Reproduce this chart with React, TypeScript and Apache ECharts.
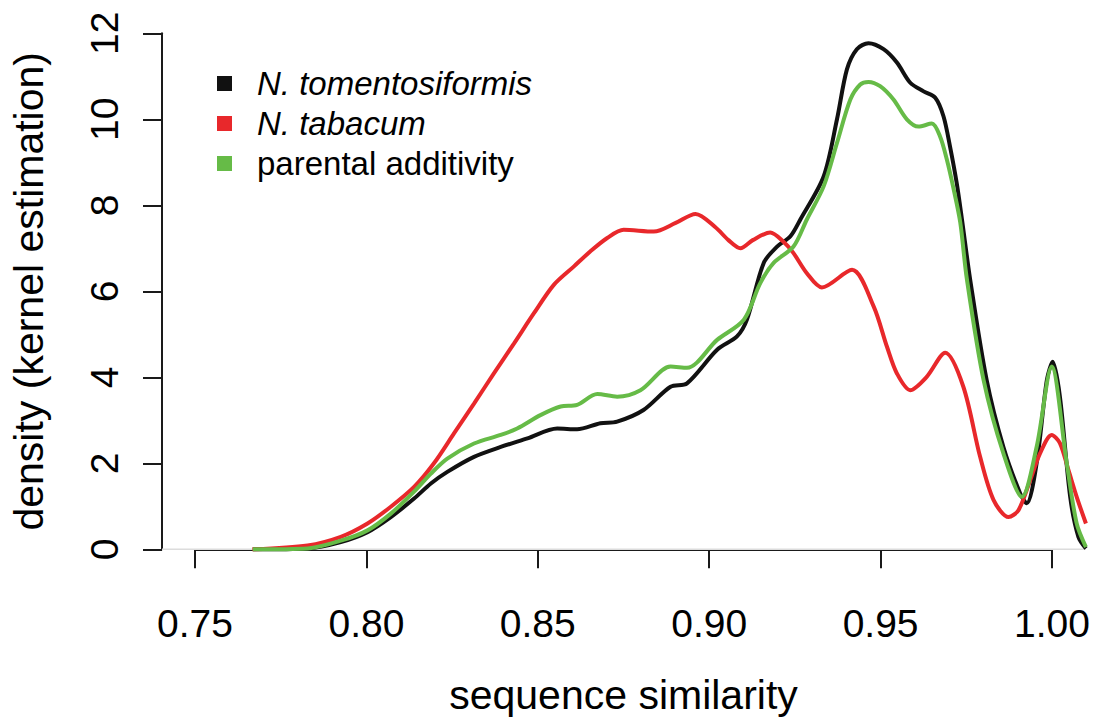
import React, { useEffect, useRef } from "react";
import * as echarts from "echarts";

const FONT = '"Liberation Sans", Arial, Helvetica, sans-serif';

const seriesNames = ["N. tomentosiformis", "N. tabacum", "parental additivity"];
const seriesColors = ["#111111", "#E8282B", "#66BB47"];

// plot region (x range of the drawn data area) and labelled axis range
const plotXRange = [0.74008, 1.00992];
const axisXRange = [0.75, 1.0];
const axisYRange = [0, 12];

// N. tomentosiformis (black)
const tomX = [0.7666, 0.7826, 0.7923, 0.8001, 0.8069, 0.8137, 0.8186, 0.8234, 0.8312, 0.839, 0.8468, 0.8555, 0.8613, 0.8681, 0.873, 0.8807, 0.8886, 0.8934, 0.9022, 0.908, 0.9109, 0.9158, 0.9197, 0.9236, 0.9265, 0.9333, 0.9372, 0.9401, 0.943, 0.9464, 0.9508, 0.9547, 0.9586, 0.9625, 0.9659, 0.9683, 0.9702, 0.9722, 0.9737, 0.9761, 0.9809, 0.9858, 0.9907, 0.9926, 0.9955, 0.9985, 1.0002, 1.0023, 1.0053, 1.0077, 1.0099];
const tomY = [0, 0.02, 0.17, 0.4, 0.75, 1.18, 1.53, 1.8, 2.15, 2.38, 2.58, 2.81, 2.79, 2.93, 2.97, 3.24, 3.78, 3.86, 4.64, 4.95, 5.34, 6.66, 7.04, 7.28, 7.67, 8.67, 10.0, 11.16, 11.63, 11.77, 11.63, 11.32, 10.85, 10.65, 10.5, 10.07, 9.37, 8.5, 7.67, 6.27, 3.94, 2.38, 1.3, 1.07, 2.0, 3.94, 4.36, 3.55, 1.22, 0.29, 0.02];

// N. tabacum (red)
const tabX = [0.7665, 0.7826, 0.7923, 0.8001, 0.8069, 0.8137, 0.8195, 0.8254, 0.8312, 0.837, 0.8429, 0.8487, 0.8545, 0.8604, 0.8652, 0.8701, 0.8749, 0.8837, 0.8901, 0.8959, 0.9017, 0.9055, 0.909, 0.9126, 0.9177, 0.9215, 0.9244, 0.9284, 0.9328, 0.9416, 0.9479, 0.9518, 0.9547, 0.9586, 0.9634, 0.9688, 0.9741, 0.979, 0.9829, 0.9873, 0.9902, 0.9936, 0.9965, 0.9999, 1.0023, 1.0048, 1.0072, 1.0099];
const tabY = [0, 0.09, 0.29, 0.6, 0.99, 1.45, 2.0, 2.7, 3.39, 4.09, 4.79, 5.49, 6.15, 6.58, 6.93, 7.24, 7.43, 7.39, 7.59, 7.8, 7.49, 7.19, 7.0, 7.19, 7.37, 7.16, 6.9, 6.42, 6.09, 6.5, 5.65, 4.71, 4.09, 3.7, 4.01, 4.57, 3.78, 2.15, 1.15, 0.75, 0.91, 1.6, 2.23, 2.66, 2.47, 1.84, 1.22, 0.6];

// parental additivity (green)
const addX = [0.7666, 0.7826, 0.7923, 0.8001, 0.8069, 0.8137, 0.8186, 0.8234, 0.8312, 0.839, 0.8438, 0.8506, 0.8565, 0.8613, 0.8672, 0.873, 0.8798, 0.8886, 0.8934, 0.9022, 0.91, 0.9148, 0.9187, 0.9245, 0.9284, 0.9333, 0.9372, 0.9411, 0.944, 0.9464, 0.9498, 0.9537, 0.9576, 0.961, 0.9649, 0.9673, 0.9693, 0.9712, 0.9732, 0.9751, 0.98, 0.9858, 0.9912, 0.9955, 0.9999, 1.0043, 1.0072, 1.0099];
const addY = [0, 0.02, 0.2, 0.44, 0.83, 1.34, 1.76, 2.11, 2.46, 2.66, 2.81, 3.12, 3.32, 3.36, 3.61, 3.55, 3.7, 4.25, 4.22, 4.87, 5.34, 6.19, 6.66, 7.04, 7.67, 8.44, 9.45, 10.46, 10.81, 10.87, 10.77, 10.46, 10.0, 9.83, 9.9, 9.6, 9.06, 8.4, 7.6, 6.3, 3.94, 2.23, 1.22, 2.38, 4.25, 2.0, 0.6, 0.05];

// reference line at density 0 spanning the plot region
const zeroX = [0.74008, 1.00992];
const zeroY = [0, 0];

const pairs = (xs: number[], ys: number[]) => xs.map((x, i) => [x, ys[i]]);

export default function App() {
  const ref = useRef<HTMLDivElement>(null);
  useEffect(() => {
    if (!ref.current) return;
    const chart = echarts.init(ref.current, undefined, { renderer: "svg" });
    const axisColor = "#1a1a1a";
    const curves = [pairs(tomX, tomY), pairs(tabX, tabY), pairs(addX, addY)];
    chart.setOption({
      animation: false,
      backgroundColor: "#ffffff",
      grid: [
        { left: 161, right: 15, top: 33.3, bottom: 172.7 },
        { left: 195, right: 49, top: 33.3, bottom: 172.7 },
      ],
      legend: {
        orient: "vertical",
        left: 212,
        top: 62,
        padding: 5,
        itemWidth: 15,
        itemHeight: 15,
        itemGap: 7,
        icon: "rect",
        data: seriesNames,
        selectedMode: false,
        formatter: (name: string) => (name.startsWith("N.") ? `{it|${name}}` : `{rg|${name}}`),
        textStyle: {
          fontFamily: FONT,
          fontSize: 33,
          color: "#000",
          rich: {
            it: { fontStyle: "italic", fontFamily: FONT, fontSize: 33, lineHeight: 33, color: "#000", padding: [0, 0, 0, 20] },
            rg: { fontFamily: FONT, fontSize: 33, lineHeight: 33, color: "#000", padding: [0, 0, 0, 20] },
          },
        },
      },
      xAxis: [
        {
          type: "value",
          gridIndex: 0,
          min: plotXRange[0],
          max: plotXRange[1],
          show: false,
          splitLine: { show: false },
        },
        {
          type: "value",
          gridIndex: 1,
          min: axisXRange[0],
          max: axisXRange[1],
          interval: 0.05,
          offset: 21,
          axisLine: { show: true, lineStyle: { color: axisColor, width: 2 } },
          axisTick: { show: true, length: 19, lineStyle: { color: axisColor, width: 2 } },
          axisLabel: {
            margin: 34,
            fontSize: 39,
            fontFamily: FONT,
            color: "#000",
            formatter: (v: number) => v.toFixed(2),
          },
          splitLine: { show: false },
          name: "sequence similarity",
          nameLocation: "middle",
          nameGap: 104,
          nameTextStyle: { fontSize: 41, fontFamily: FONT, color: "#000" },
        },
      ],
      yAxis: [
        {
          type: "value",
          gridIndex: 0,
          min: axisYRange[0],
          max: axisYRange[1],
          interval: 2,
          axisLine: { show: true, lineStyle: { color: axisColor, width: 2 } },
          axisTick: { show: true, length: 19, lineStyle: { color: axisColor, width: 2 } },
          axisLabel: { rotate: 90, margin: 38, fontSize: 39, fontFamily: FONT, color: "#000" },
          splitLine: { show: false },
          name: "density (kernel estimation)",
          nameLocation: "middle",
          nameGap: 113,
          nameTextStyle: { fontSize: 41, fontFamily: FONT, color: "#000" },
        },
        {
          type: "value",
          gridIndex: 1,
          min: axisYRange[0],
          max: axisYRange[1],
          show: false,
          splitLine: { show: false },
        },
      ],
      series: [
        {
          name: "zero",
          type: "line",
          xAxisIndex: 0,
          yAxisIndex: 0,
          data: pairs(zeroX, zeroY),
          symbol: "none",
          silent: true,
          z: 1,
          lineStyle: { color: "#dcdcdc", width: 1.5 },
          itemStyle: { color: "#dcdcdc" },
        },
        ...seriesNames.map((name, i) => ({
          name,
          type: "line",
          xAxisIndex: 0,
          yAxisIndex: 0,
          data: curves[i],
          symbol: "none",
          showSymbol: false,
          smooth: 0.3,
          clip: false,
          silent: true,
          z: 2 + i,
          lineStyle: { color: seriesColors[i], width: 4 },
          itemStyle: { color: seriesColors[i] },
        })),
      ],
    });
    return () => chart.dispose();
  }, []);
  return (
    <div
      ref={ref}
      style={{ position: "fixed", left: 0, top: 0, width: 1101, height: 722, background: "#fff" }}
    />
  );
}
